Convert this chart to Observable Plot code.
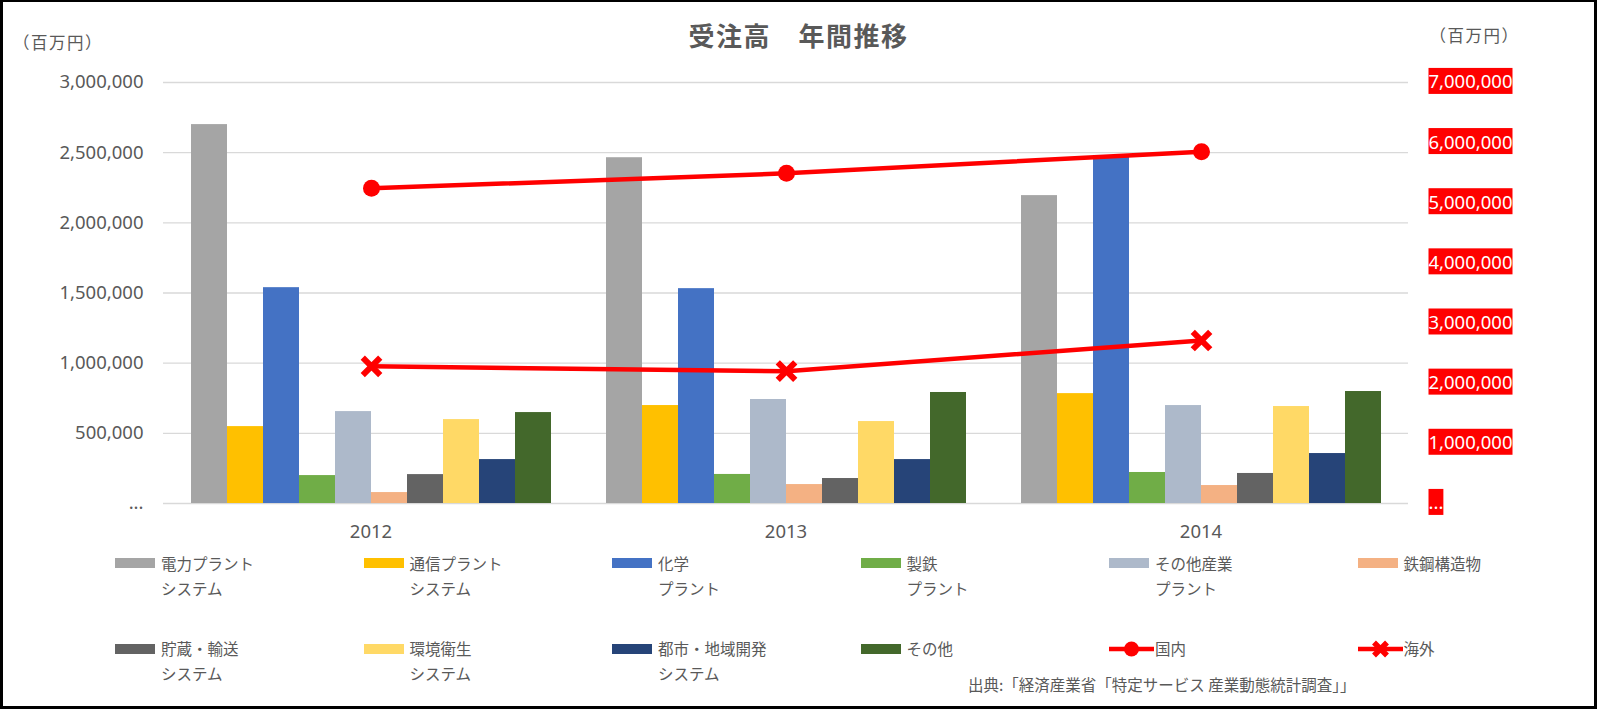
<!DOCTYPE html>
<html><head><meta charset="utf-8">
<script src="https://cdn.jsdelivr.net/npm/d3@7"></script>
<script src="https://cdn.jsdelivr.net/npm/@observablehq/plot@0.6"></script>
<style>
html,body{margin:0;padding:0;background:#fff;}
#chart{position:relative;width:1597px;height:710px;overflow:hidden;font-family:"Noto Sans CJK JP","Noto Sans",sans-serif;color:#595959;background:#fff;}
#frame{position:absolute;left:0;top:0;width:1597px;height:709px;box-sizing:border-box;border:3px solid #000;border-top-width:2px;pointer-events:none;z-index:10;}
.abs{position:absolute;white-space:nowrap;line-height:1;}
.plot-layer{position:absolute;left:0;top:0;}
</style>
</head><body>
<div id="chart"><div id="frame"></div></div>
<script>
// ---- data ----
const years = ["2012", "2013", "2014"];
const series = ["電力プラントシステム", "通信プラントシステム", "化学プラント", "製鉄プラント", "その他産業プラント", "鉄鋼構造物", "貯蔵・輸送システム", "環境衛生システム", "都市・地域開発システム", "その他"];
const legendLabels = [["電力プラント", "システム"], ["通信プラント", "システム"], ["化学", "プラント"], ["製鉄", "プラント"], ["その他産業", "プラント"], ["鉄鋼構造物"], ["貯蔵・輸送", "システム"], ["環境衛生", "システム"], ["都市・地域開発", "システム"], ["その他"]];
const colors = ["#A5A5A5", "#FFC000", "#4472C4", "#70AD47", "#ADB9CA", "#F4B183", "#636363", "#FFD966", "#264478", "#43682B"];
const v2012 = [2700000, 548000, 1538000, 199000, 655000, 78000, 206000, 598000, 313000, 648000];
const v2013 = [2464000, 698000, 1531000, 207000, 741000, 135000, 178000, 584000, 313000, 791000];
const v2014 = [2194000, 783000, 2480000, 221000, 698000, 128000, 214000, 691000, 356000, 798000];
const lineNames = ["国内", "海外"];
const domestic = [5240000, 5490000, 5850000];
const overseas = [2280000, 2200000, 2710000];
const leftTicks = [0, 500000, 1000000, 1500000, 2000000, 2500000, 3000000];
const rightTicks = [0, 1000000, 2000000, 3000000, 4000000, 5000000, 6000000, 7000000];
const titleText = "受注高　年間推移";
const unitText = "（百万円）";
const captionText = "出典:「経済産業省「特定サービス 産業動態統計調査」」";

// ---- build ----
const chart = document.getElementById("chart");
const W = 1597, H = 560, ML = 162, MR = 188, MT = 82, MB = 57;
const fmt = d => d === 0 ? "..." : d3.format(",")(d);
const byYear = [v2012, v2013, v2014];
const barData = years.flatMap((yr, i) => byYear[i].map((v, j) => ({year: yr, series: series[j], value: v})));
const lineData = years.flatMap((yr, i) => [
  {year: yr, kind: lineNames[0], value: domestic[i]},
  {year: yr, kind: lineNames[1], value: overseas[i]}
]);
const baseStyle = {fontFamily: '"Noto Sans", sans-serif', fontSize: "18.5px", color: "#595959", background: "transparent", overflow: "visible"};

const p1 = Plot.plot({
  width: W, height: H, marginLeft: ML, marginRight: MR, marginTop: MT, marginBottom: MB,
  style: baseStyle,
  fx: {domain: years, paddingInner: 0, paddingOuter: 0, label: null, tickSize: 0, tickPadding: 21, axis: "bottom"},
  x: {domain: series, paddingInner: 0, paddingOuter: 0.75, axis: null},
  y: {domain: [0, 3000000], ticks: leftTicks, tickFormat: fmt, label: null, tickSize: 0, tickPadding: 20},
  color: {domain: series, range: colors},
  marks: [
    Plot.gridY(leftTicks, {stroke: "#D9D9D9", strokeOpacity: 1, strokeWidth: 1.4}),
    Plot.barY(barData, {fx: "year", x: "series", y: "value", fill: "series"})
  ]
});
p1.classList.add("plot-layer");
chart.appendChild(p1);

const p2 = Plot.plot({
  width: W, height: H, marginLeft: ML, marginRight: MR, marginTop: MT, marginBottom: MB,
  style: baseStyle,
  x: {type: "point", domain: years, padding: 0.5, axis: null},
  y: {domain: [0, 7000000], ticks: rightTicks, tickFormat: fmt, axis: "right", label: null, tickSize: 0, tickPadding: 19},
  marks: [
    Plot.line(lineData.filter(d => d.kind === lineNames[0]), {x: "year", y: "value", stroke: "#FF0000", strokeWidth: 4.5}),
    Plot.line(lineData.filter(d => d.kind === lineNames[1]), {x: "year", y: "value", stroke: "#FF0000", strokeWidth: 4.5}),
    Plot.dot(lineData.filter(d => d.kind === lineNames[0]), {x: "year", y: "value", r: 8.5, fill: "#FF0000"}),
    Plot.dot(lineData.filter(d => d.kind === lineNames[1]), {x: "year", y: "value", r: 8, symbol: "times", stroke: "#FF0000", strokeWidth: 6})
  ]
});
p2.classList.add("plot-layer");
chart.appendChild(p2);

// red label boxes on right axis
p2.querySelectorAll('g[aria-label="y-axis tick label"] text').forEach(t => {
  const b = t.getBBox();
  const cy = b.y + b.height / 2;
  const r = document.createElementNS("http://www.w3.org/2000/svg", "rect");
  r.setAttribute("x", b.x);
  r.setAttribute("y", cy - 13);
  r.setAttribute("width", b.width);
  r.setAttribute("height", 26);
  r.setAttribute("fill", "#FF0000");
  const tr = t.getAttribute("transform");
  if (tr) r.setAttribute("transform", tr);
  t.parentNode.insertBefore(r, t);
  t.setAttribute("fill", "#FFFFFF");
});

function addText(txt, left, top, size, extra) {
  const d = document.createElement("div");
  d.className = "abs";
  d.textContent = txt;
  d.style.left = left + "px";
  d.style.top = top + "px";
  d.style.fontSize = size + "px";
  if (extra) Object.assign(d.style, extra);
  chart.appendChild(d);
  return d;
}
addText(titleText, 0, 22, 26, {width: "1597px", textAlign: "center", fontWeight: "bold", letterSpacing: "1.5px"});
addText(unitText, 13, 34, 16.5, {letterSpacing: "1.5px"});
addText(unitText, 1429.5, 27, 16.5, {letterSpacing: "1.5px"});
addText(captionText, 968, 677, 15.5);

// legend
const colX = [115, 363.5, 612, 860.5, 1109, 1357.5];
const rowY = [563, 648.5];
const items = series.map((s, i) => ({type: "bar", color: colors[i], label: legendLabels[i]}))
  .concat([{type: "line", marker: "circle", label: [lineNames[0]]}, {type: "line", marker: "times", label: [lineNames[1]]}]);
items.forEach((it, i) => {
  const x = colX[i % 6], y = rowY[Math.floor(i / 6)];
  if (it.type === "bar") {
    const s = document.createElement("div");
    s.className = "abs";
    Object.assign(s.style, {left: x + "px", top: (y - 5) + "px", width: "40px", height: "10px", background: it.color});
    chart.appendChild(s);
  } else {
    const ns = "http://www.w3.org/2000/svg";
    const svg = document.createElementNS(ns, "svg");
    svg.setAttribute("width", 46); svg.setAttribute("height", 22);
    svg.style.position = "absolute"; svg.style.left = x + "px"; svg.style.top = (y - 11) + "px";
    const ln = document.createElementNS(ns, "line");
    ln.setAttribute("x1", 0); ln.setAttribute("x2", 45); ln.setAttribute("y1", 11); ln.setAttribute("y2", 11);
    ln.setAttribute("stroke", "#FF0000"); ln.setAttribute("stroke-width", 4.5);
    svg.appendChild(ln);
    if (it.marker === "circle") {
      const c = document.createElementNS(ns, "circle");
      c.setAttribute("cx", 22.5); c.setAttribute("cy", 11); c.setAttribute("r", 7.5); c.setAttribute("fill", "#FF0000");
      svg.appendChild(c);
    } else {
      const p = document.createElementNS(ns, "path");
      p.setAttribute("d", "M16,4.5L29,17.5M29,4.5L16,17.5");
      p.setAttribute("stroke", "#FF0000"); p.setAttribute("stroke-width", 5.5);
      svg.appendChild(p);
    }
    chart.appendChild(svg);
  }
  const t = document.createElement("div");
  t.className = "abs";
  t.style.left = (x + 46) + "px";
  t.style.top = (y - 12.5) + "px";
  t.style.fontSize = "15.5px";
  t.style.lineHeight = "25px";
  t.innerHTML = it.label.join("<br>");
  chart.appendChild(t);
});
</script>
</body></html>
